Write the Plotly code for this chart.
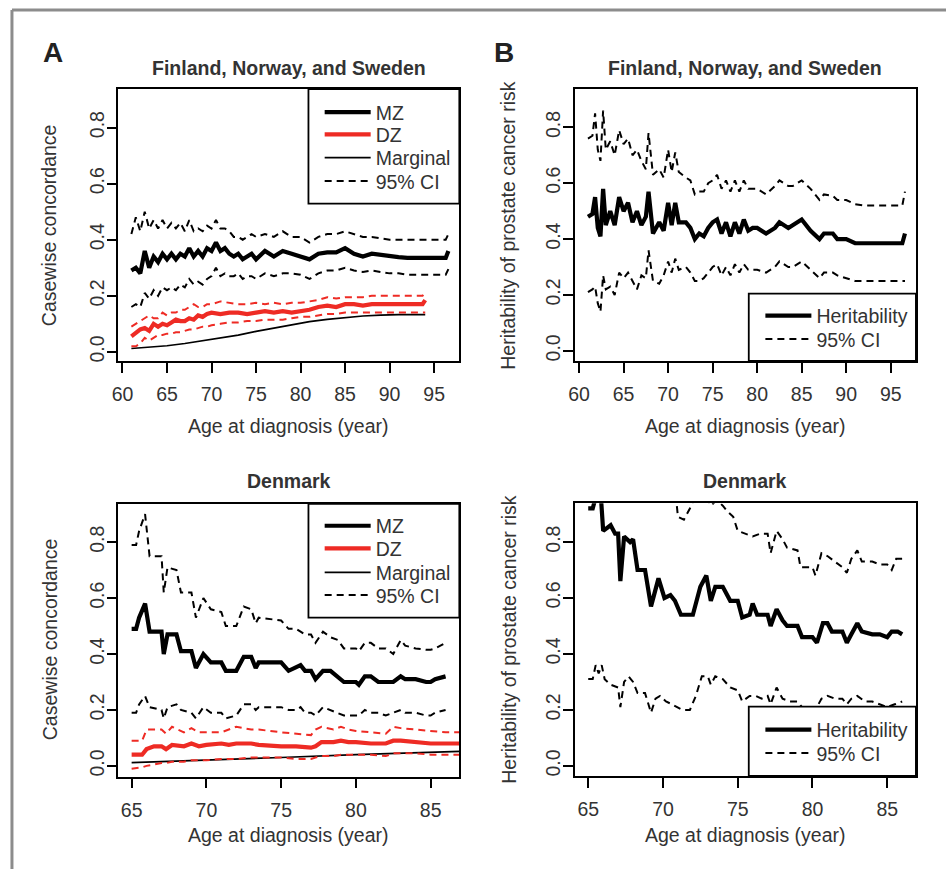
import plotly.graph_objects as go

# ---------------- data ----------------
# Panel A top: Finland, Norway, and Sweden (casewise concordance)
nord_mz_age = [61, 61.5, 62, 62.5, 63, 63.5, 64, 64.5, 65, 65.5, 66, 66.5, 67, 67.5, 68, 68.5, 69, 69.5, 70, 70.5,
               71, 71.5, 72, 72.5, 73, 73.5, 74, 74.5, 75, 76, 77, 78, 79, 80, 81, 82, 83, 84, 85, 86,
               87, 88, 89, 90, 91, 92, 93, 94, 95, 96.3, 96.6]
nord_mz = [0.29, 0.30, 0.28, 0.36, 0.30, 0.34, 0.32, 0.35, 0.33, 0.35, 0.33, 0.35, 0.34, 0.37, 0.34, 0.36, 0.34, 0.37, 0.36, 0.39,
           0.36, 0.37, 0.35, 0.34, 0.35, 0.33, 0.34, 0.35, 0.33, 0.36, 0.34, 0.36, 0.35, 0.34, 0.33, 0.35, 0.355, 0.355, 0.37, 0.35,
           0.34, 0.35, 0.345, 0.34, 0.338, 0.335, 0.335, 0.335, 0.335, 0.335, 0.36]
nord_mz_hi = [0.42, 0.48, 0.43, 0.50, 0.44, 0.47, 0.44, 0.47, 0.44, 0.46, 0.44, 0.46, 0.43, 0.47, 0.43, 0.44, 0.43, 0.45, 0.44, 0.47,
              0.44, 0.44, 0.43, 0.41, 0.41, 0.40, 0.41, 0.42, 0.41, 0.42, 0.41, 0.43, 0.41, 0.41, 0.39, 0.41, 0.42, 0.42, 0.43, 0.42,
              0.41, 0.41, 0.405, 0.40, 0.40, 0.40, 0.40, 0.40, 0.40, 0.40, 0.42]
nord_mz_lo = [0.16, 0.17, 0.16, 0.21, 0.19, 0.22, 0.20, 0.23, 0.22, 0.23, 0.22, 0.24, 0.23, 0.26, 0.24, 0.25, 0.24, 0.26, 0.27, 0.30,
              0.27, 0.28, 0.27, 0.27, 0.28, 0.26, 0.27, 0.27, 0.26, 0.28, 0.27, 0.28, 0.28, 0.275, 0.26, 0.28, 0.29, 0.29, 0.30, 0.29,
              0.285, 0.29, 0.285, 0.28, 0.28, 0.275, 0.275, 0.275, 0.275, 0.275, 0.295]
nord_dz_age = [61, 61.5, 62, 62.5, 63, 63.5, 64, 64.5, 65, 65.5, 66, 66.5, 67, 67.5, 68, 68.5, 69, 69.5, 70, 71,
               72, 73, 74, 75, 76, 77, 78, 79, 80, 81, 82, 83, 84, 85, 86, 87, 88, 89, 90, 91,
               92, 93, 93.7, 94]
nord_dz = [0.055, 0.07, 0.08, 0.085, 0.075, 0.10, 0.09, 0.10, 0.095, 0.105, 0.115, 0.11, 0.11, 0.12, 0.115, 0.13, 0.125, 0.135, 0.14, 0.135,
           0.14, 0.14, 0.135, 0.14, 0.145, 0.14, 0.145, 0.14, 0.145, 0.15, 0.16, 0.165, 0.16, 0.17, 0.17, 0.165, 0.17, 0.17, 0.17, 0.17,
           0.17, 0.17, 0.17, 0.185]
nord_dz_hi = [0.09, 0.10, 0.11, 0.12, 0.13, 0.12, 0.12, 0.14, 0.13, 0.14, 0.14, 0.15, 0.15, 0.16, 0.17, 0.16, 0.16, 0.17, 0.17, 0.18,
              0.175, 0.17, 0.17, 0.175, 0.17, 0.175, 0.17, 0.175, 0.175, 0.18, 0.185, 0.195, 0.19, 0.195, 0.195, 0.195, 0.20, 0.20, 0.20, 0.20,
              0.20, 0.20, 0.20, 0.215]
nord_dz_lo = [0.02, 0.02, 0.03, 0.05, 0.04, 0.05, 0.06, 0.06, 0.065, 0.065, 0.07, 0.07, 0.075, 0.08, 0.08, 0.085, 0.09, 0.09, 0.095, 0.10,
              0.105, 0.105, 0.11, 0.11, 0.115, 0.115, 0.115, 0.12, 0.125, 0.125, 0.13, 0.135, 0.135, 0.14, 0.14, 0.14, 0.14, 0.14, 0.14, 0.14,
              0.14, 0.14, 0.14, 0.14]
nord_marg_age = [61, 63, 65, 67, 69, 71, 73, 75, 77, 79, 81, 83, 85, 87, 89, 91, 94]
nord_marg = [0.012, 0.016, 0.022, 0.03, 0.04, 0.05, 0.06, 0.073, 0.085, 0.097, 0.108, 0.116, 0.123, 0.128, 0.131, 0.133, 0.133]

# Panel B top: Finland, Norway, and Sweden (heritability)
nord_h_age = [61, 61.5, 61.8, 62.1, 62.4, 62.7, 63, 63.5, 64, 64.5, 65, 65.5, 66, 66.5, 67, 67.5, 67.8, 68.3, 69, 69.5,
              70, 70.4, 70.8, 71.2, 72, 72.5, 73, 73.5, 74, 74.5, 75, 75.5, 76, 76.5, 77, 77.5, 78, 78.5, 79, 79.5,
              80, 81, 82, 82.5, 83.5, 84, 85, 86, 87, 87.5, 88.5, 89, 90, 91, 92, 94, 96.3, 96.6]
nord_h = [0.48, 0.49, 0.55, 0.44, 0.41, 0.58, 0.45, 0.50, 0.45, 0.55, 0.50, 0.53, 0.46, 0.50, 0.45, 0.48, 0.57, 0.42, 0.46, 0.43,
          0.53, 0.45, 0.53, 0.46, 0.46, 0.44, 0.40, 0.42, 0.41, 0.44, 0.46, 0.47, 0.42, 0.46, 0.41, 0.46, 0.42, 0.47, 0.43, 0.44,
          0.44, 0.42, 0.44, 0.46, 0.44, 0.45, 0.47, 0.43, 0.40, 0.42, 0.42, 0.40, 0.40, 0.385, 0.385, 0.385, 0.385, 0.42]
nord_h_hi = [0.76, 0.77, 0.85, 0.72, 0.68, 0.86, 0.72, 0.75, 0.70, 0.79, 0.74, 0.76, 0.70, 0.72, 0.68, 0.65, 0.78, 0.63, 0.65, 0.62,
             0.72, 0.64, 0.71, 0.64, 0.62, 0.61, 0.56, 0.57, 0.57, 0.60, 0.61, 0.63, 0.58, 0.61, 0.57, 0.61, 0.57, 0.61, 0.58, 0.58,
             0.58, 0.56, 0.59, 0.61, 0.59, 0.59, 0.61, 0.58, 0.54, 0.56, 0.555, 0.54, 0.54, 0.525, 0.52, 0.52, 0.52, 0.57]
nord_h_lo = [0.21, 0.22, 0.23, 0.17, 0.14, 0.27, 0.22, 0.23, 0.20, 0.28, 0.26, 0.28, 0.25, 0.22, 0.27, 0.26, 0.36, 0.25, 0.24, 0.27,
             0.32, 0.28, 0.33, 0.29, 0.30, 0.28, 0.25, 0.25, 0.26, 0.28, 0.30, 0.31, 0.27, 0.30, 0.27, 0.31, 0.28, 0.31, 0.29, 0.29,
             0.29, 0.28, 0.30, 0.32, 0.30, 0.30, 0.32, 0.29, 0.26, 0.28, 0.28, 0.27, 0.26, 0.25, 0.25, 0.25, 0.25, 0.25]

# Panel A bottom: Denmark (casewise concordance)
dk_mz_age = [65, 65.3, 65.5, 65.9, 66.2, 67, 67.15, 67.4, 68, 68.3, 69, 69.3, 69.8, 70.3, 71, 71.3, 72, 72.5, 73, 73.3,
             73.5, 75, 75.5, 76, 76.3, 76.6, 77, 77.3, 77.8, 78.3, 78.8, 79.2, 80, 80.2, 80.6, 81, 81.5, 82, 82.5, 83,
             83.3, 84, 84.7, 85, 85.3, 86]
dk_mz = [0.49, 0.49, 0.53, 0.58, 0.48, 0.48, 0.40, 0.47, 0.47, 0.41, 0.41, 0.35, 0.40, 0.37, 0.37, 0.34, 0.34, 0.39, 0.39, 0.35,
         0.37, 0.37, 0.34, 0.35, 0.36, 0.34, 0.34, 0.31, 0.34, 0.34, 0.32, 0.30, 0.30, 0.29, 0.32, 0.32, 0.30, 0.30, 0.30, 0.32,
         0.31, 0.31, 0.30, 0.30, 0.31, 0.32]
dk_mz_hi = [0.79, 0.79, 0.84, 0.90, 0.75, 0.75, 0.62, 0.71, 0.70, 0.62, 0.62, 0.53, 0.60, 0.56, 0.55, 0.50, 0.50, 0.57, 0.56, 0.51,
            0.53, 0.52, 0.49, 0.49, 0.48, 0.47, 0.47, 0.44, 0.48, 0.46, 0.45, 0.42, 0.42, 0.41, 0.44, 0.44, 0.42, 0.42, 0.40, 0.45,
            0.43, 0.42, 0.415, 0.415, 0.42, 0.44]
dk_mz_lo = [0.19, 0.19, 0.22, 0.25, 0.21, 0.20, 0.17, 0.21, 0.22, 0.20, 0.19, 0.17, 0.21, 0.19, 0.19, 0.17, 0.18, 0.22, 0.22, 0.20,
            0.21, 0.21, 0.20, 0.20, 0.21, 0.19, 0.19, 0.18, 0.21, 0.20, 0.19, 0.18, 0.18, 0.18, 0.20, 0.19, 0.19, 0.18, 0.19, 0.20,
            0.19, 0.19, 0.18, 0.18, 0.19, 0.20]
dk_dz_age = [65, 65.7, 66, 66.5, 67, 67.3, 67.7, 68.5, 69, 69.5, 70, 71, 71.5, 72, 73, 73.5, 75, 76, 77, 77.3,
             77.7, 78.5, 79, 79.5, 80, 81, 82, 82.5, 83, 84, 85, 86, 87.5]
dk_dz = [0.04, 0.04, 0.06, 0.07, 0.07, 0.06, 0.075, 0.07, 0.08, 0.07, 0.075, 0.08, 0.075, 0.08, 0.08, 0.075, 0.07, 0.07, 0.065, 0.07,
         0.085, 0.085, 0.09, 0.085, 0.085, 0.08, 0.08, 0.09, 0.09, 0.085, 0.08, 0.08, 0.08]
dk_dz_hi = [0.09, 0.09, 0.13, 0.13, 0.13, 0.115, 0.14, 0.12, 0.135, 0.12, 0.12, 0.12, 0.13, 0.14, 0.13, 0.13, 0.12, 0.115, 0.11, 0.13,
            0.14, 0.13, 0.14, 0.13, 0.125, 0.12, 0.115, 0.14, 0.135, 0.13, 0.125, 0.12, 0.12]
dk_dz_lo = [-0.01, -0.005, 0.0, 0.005, 0.01, 0.01, 0.015, 0.015, 0.02, 0.02, 0.02, 0.025, 0.025, 0.025, 0.03, 0.03, 0.03, 0.025, 0.025, 0.03,
            0.035, 0.035, 0.04, 0.04, 0.04, 0.04, 0.035, 0.045, 0.045, 0.045, 0.04, 0.04, 0.04]
dk_marg_age = [65, 70, 75, 80, 85, 87.5]
dk_marg = [0.012, 0.02, 0.03, 0.04, 0.048, 0.053]

# Panel B bottom: Denmark (heritability)
dk_h_age = [65, 65.3, 65.5, 65.8, 66, 66.5, 66.8, 67, 67.15, 67.4, 67.8, 68, 68.3, 68.8, 69.2, 69.7, 70.1, 70.5, 70.8, 71.2,
            72, 72.5, 72.9, 73.2, 73.5, 74, 74.5, 75, 75.3, 75.8, 76, 76.3, 77, 77.2, 77.6, 78, 78.3, 79, 79.3, 80,
            80.3, 80.7, 81, 81.3, 82, 82.3, 82.6, 83, 83.3, 84, 84.5, 85, 85.3, 85.7, 86]
dk_h = [0.92, 0.92, 0.96, 1.00, 0.84, 0.86, 0.83, 0.83, 0.66, 0.82, 0.80, 0.81, 0.70, 0.70, 0.57, 0.67, 0.60, 0.61, 0.59, 0.54,
        0.54, 0.64, 0.68, 0.59, 0.64, 0.64, 0.59, 0.59, 0.53, 0.54, 0.58, 0.54, 0.54, 0.50, 0.56, 0.52, 0.50, 0.50, 0.46, 0.46,
        0.44, 0.51, 0.51, 0.48, 0.48, 0.44, 0.47, 0.51, 0.48, 0.47, 0.47, 0.46, 0.48, 0.48, 0.47]
dk_h_hi_age = [65, 70.8, 71.0, 71.4, 71.8, 72.2, 72.8, 73.2, 73.6, 74, 74.3, 74.7, 75, 75.5, 76, 76.5, 77, 77.2, 77.6, 78,
               78.3, 79, 79.2, 80, 80.2, 80.6, 81, 81.5, 82, 82.3, 82.6, 83, 83.3, 84, 84.5, 85, 85.3, 85.6, 86]
dk_h_hi = [1.05, 1.0, 0.89, 0.88, 0.92, 0.97, 0.98, 0.93, 0.95, 0.93, 0.91, 0.89, 0.84, 0.83, 0.82, 0.83, 0.83, 0.76, 0.84, 0.81,
           0.78, 0.77, 0.71, 0.71, 0.68, 0.76, 0.75, 0.73, 0.71, 0.69, 0.74, 0.77, 0.73, 0.73, 0.72, 0.72, 0.70, 0.74, 0.74]
dk_h_lo_age = [65, 65.3, 65.5, 65.7, 65.9, 66.1, 66.5, 67, 67.15, 67.4, 67.7, 68, 68.3, 68.8, 69.2, 69.5, 69.8, 70.2, 70.6, 71,
               71.3, 71.8, 72.2, 72.6, 73, 73.2, 73.5, 74, 74.5, 75, 75.3, 75.8, 76.2, 76.6, 77, 77.2, 77.6, 78, 78.5, 79,
               79.3, 80, 80.2, 80.6, 81, 81.5, 82, 82.3, 82.6, 83, 83.5, 84, 84.5, 85, 85.5, 86]
dk_h_lo = [0.31, 0.31, 0.36, 0.33, 0.36, 0.31, 0.29, 0.28, 0.21, 0.30, 0.32, 0.30, 0.26, 0.26, 0.19, 0.24, 0.25, 0.23, 0.22, 0.21,
           0.20, 0.20, 0.25, 0.32, 0.32, 0.29, 0.32, 0.31, 0.28, 0.27, 0.23, 0.25, 0.25, 0.24, 0.25, 0.22, 0.28, 0.24, 0.23, 0.23,
           0.21, 0.21, 0.20, 0.24, 0.25, 0.24, 0.24, 0.22, 0.24, 0.25, 0.23, 0.23, 0.22, 0.21, 0.22, 0.23]

nord_xticks = [60, 65, 70, 75, 80, 85, 90, 95]
dk_xticks = [65, 70, 75, 80, 85]
y_ticks = [0.0, 0.2, 0.4, 0.6, 0.8]
y_ticktext = ["0.0", "0.2", "0.4", "0.6", "0.8"]

# ---------------- figure ----------------
W, H = 946, 871
X_OFF = -7.0
FONT = "Liberation Sans, Arial, Helvetica, sans-serif"
TXT = "#333333"
RED = "#ee2b24"
DASH = "7px,5px"
FS = 19.5


def px_x(p):
    return (p + X_OFF) / W


def px_y(p):
    return 1 - p / H


fig = go.Figure()


def add_line(x, y, xa, ya, color, width, dash, name, legend, show):
    fig.add_trace(go.Scatter(x=x, y=y, xaxis=xa, yaxis=ya, mode="lines",
                             line=dict(color=color, width=width, dash=dash),
                             name=name, legend=legend, showlegend=show, hoverinfo="skip"))


# legend entries: one plotly legend per entry, placed at the reference rows
# key: (sample-left px, row-centre px)
legend_pos = {
    "legend": (328.0, 112.7), "legend2": (328.0, 135.0), "legend3": (328.0, 158.3), "legend4": (328.0, 181.7),
    "legend5": (772.0, 316.7), "legend6": (772.0, 340.0),
    "legend7": (328.0, 527.3), "legend8": (328.0, 550.0), "legend9": (328.0, 574.0), "legend10": (328.0, 596.7),
    "legend11": (772.0, 731.7), "legend12": (772.0, 755.0),
}

# top-left
add_line(nord_mz_age, nord_mz, "x", "y", "black", 4.2, "solid", "MZ", "legend", True)
add_line(nord_dz_age, nord_dz, "x", "y", RED, 4.2, "solid", "DZ", "legend2", True)
add_line(nord_marg_age, nord_marg, "x", "y", "black", 1.7, "solid", "Marginal", "legend3", True)
add_line(nord_mz_age, nord_mz_hi, "x", "y", "black", 2, DASH, "95% CI", "legend4", True)
add_line(nord_mz_age, nord_mz_lo, "x", "y", "black", 2, DASH, "95% CI", "legend4", False)
add_line(nord_dz_age, nord_dz_hi, "x", "y", RED, 2, DASH, "95% CI", "legend4", False)
add_line(nord_dz_age, nord_dz_lo, "x", "y", RED, 2, DASH, "95% CI", "legend4", False)

# top-right
add_line(nord_h_age, nord_h, "x2", "y2", "black", 4.2, "solid", "Heritability", "legend5", True)
add_line(nord_h_age, nord_h_hi, "x2", "y2", "black", 2, DASH, "95% CI", "legend6", True)
add_line(nord_h_age, nord_h_lo, "x2", "y2", "black", 2, DASH, "95% CI", "legend6", False)

# bottom-left
add_line(dk_mz_age, dk_mz, "x3", "y3", "black", 4.2, "solid", "MZ", "legend7", True)
add_line(dk_dz_age, dk_dz, "x3", "y3", RED, 4.2, "solid", "DZ", "legend8", True)
add_line(dk_marg_age, dk_marg, "x3", "y3", "black", 1.7, "solid", "Marginal", "legend9", True)
add_line(dk_mz_age, dk_mz_hi, "x3", "y3", "black", 2, DASH, "95% CI", "legend10", True)
add_line(dk_mz_age, dk_mz_lo, "x3", "y3", "black", 2, DASH, "95% CI", "legend10", False)
add_line(dk_dz_age, dk_dz_hi, "x3", "y3", RED, 2, DASH, "95% CI", "legend10", False)
add_line(dk_dz_age, dk_dz_lo, "x3", "y3", RED, 2, DASH, "95% CI", "legend10", False)

# bottom-right
add_line(dk_h_age, dk_h, "x4", "y4", "black", 4.2, "solid", "Heritability", "legend11", True)
add_line(dk_h_hi_age, dk_h_hi, "x4", "y4", "black", 2, DASH, "95% CI", "legend12", True)
add_line(dk_h_lo_age, dk_h_lo, "x4", "y4", "black", 2, DASH, "95% CI", "legend12", False)

# plot boxes in pixels: (left, right, top, bottom)
boxes = {
    1: (119.3, 462.7, 89.3, 361.7),
    2: (579.3, 922.7, 89.3, 361.7),
    3: (119.3, 462.7, 505.0, 778.3),
    4: (579.3, 922.7, 504.3, 777.7),
}
xranges = {1: [59.55, 97.83], 2: [59.55, 97.83], 3: [64.12, 86.92], 4: [64.12, 86.92]}
yranges = {1: [-0.032, 0.937], 2: [-0.036, 0.937], 3: [-0.038, 0.937], 4: [-0.036, 0.939]}
xtickv = {1: nord_xticks, 2: nord_xticks, 3: dk_xticks, 4: dk_xticks}

axis_common = dict(showline=True, linecolor="black", linewidth=1.7, mirror=True,
                   ticks="outside", ticklen=10, tickwidth=1.5, tickcolor="black",
                   showgrid=False, zeroline=False,
                   tickfont=dict(family=FONT, size=FS, color=TXT))

layout = dict(width=W, height=H, margin=dict(l=0, r=0, t=0, b=0),
              paper_bgcolor="white", plot_bgcolor="white", showlegend=True)

for i, (l, r, t, b) in boxes.items():
    sx = "" if i == 1 else str(i)
    layout["xaxis" + sx] = dict(axis_common, domain=[px_x(l), px_x(r)], range=xranges[i],
                                anchor="y" + sx, tickvals=xtickv[i], ticklabelstandoff=5)
    layout["yaxis" + sx] = dict(axis_common, domain=[px_y(b), px_y(t)], range=yranges[i],
                                anchor="x" + sx, tickvals=y_ticks, ticktext=y_ticktext,
                                tickangle=-90, ticklabelstandoff=-5)

for key, (sx_, cy) in legend_pos.items():
    layout[key] = dict(x=px_x(sx_ - 6), y=px_y(cy), xanchor="left", yanchor="middle",
                       bgcolor="rgba(0,0,0,0)", borderwidth=0,
                       font=dict(family=FONT, size=FS, color=TXT), itemwidth=46)

# legend boxes
leg_boxes = [
    (310.7, 462.7, 89.3, 204.0),
    (754.3, 922.7, 294.3, 361.7),
    (310.7, 462.7, 505.0, 619.0),
    (754.3, 922.7, 708.3, 777.7),
]
shapes = []
for (l, r, t, b) in leg_boxes:
    shapes.append(dict(type="rect", xref="paper", yref="paper",
                       x0=px_x(l), x1=px_x(r), y0=px_y(b), y1=px_y(t),
                       line=dict(color="black", width=1.8), fillcolor="white", layer="above"))

# outer frame (top and left gray rules)
shapes.append(dict(type="line", xref="paper", yref="paper", x0=px_x(12), x1=1, y0=px_y(10), y1=px_y(10),
                   line=dict(color="#8c8c8c", width=3)))
shapes.append(dict(type="line", xref="paper", yref="paper", x0=px_x(12), x1=px_x(12), y0=0, y1=px_y(10),
                   line=dict(color="#8c8c8c", width=3)))
layout["shapes"] = shapes

# text annotations
ann = []


def text(s, x, y, size=FS, bold=False, angle=0, color=TXT):
    ann.append(dict(text=("<b>%s</b>" % s) if bold else s, x=px_x(x), y=px_y(y), xref="paper", yref="paper",
                    showarrow=False, xanchor="center", yanchor="middle", textangle=angle,
                    font=dict(family=FONT, size=size, color=color)))


text("A", 53, 53, size=28, bold=True, color="#222")
text("B", 508, 53, size=28, bold=True, color="#222")
text("Finland, Norway, and Sweden", 291, 68, bold=True)
text("Finland, Norway, and Sweden", 751, 68, bold=True)
text("Denmark", 291, 482, bold=True)
text("Denmark", 751, 482, bold=True)
text("Age at diagnosis (year)", 291, 427)
text("Age at diagnosis (year)", 751, 427)
text("Age at diagnosis (year)", 291, 837)
text("Age at diagnosis (year)", 751, 837)
text("Casewise concordance", 50, 226, angle=-90)
text("Heritability of prostate cancer risk", 512, 226, angle=-90)
text("Casewise concordance", 50, 641, angle=-90)
text("Heritability of prostate cancer risk", 512, 641, angle=-90)
layout["annotations"] = ann

fig.update_layout(**layout)
fig.write_html("out.html", config={"displayModeBar": False},
               post_script="document.body.style.margin='0px';document.body.style.overflow='hidden';")
